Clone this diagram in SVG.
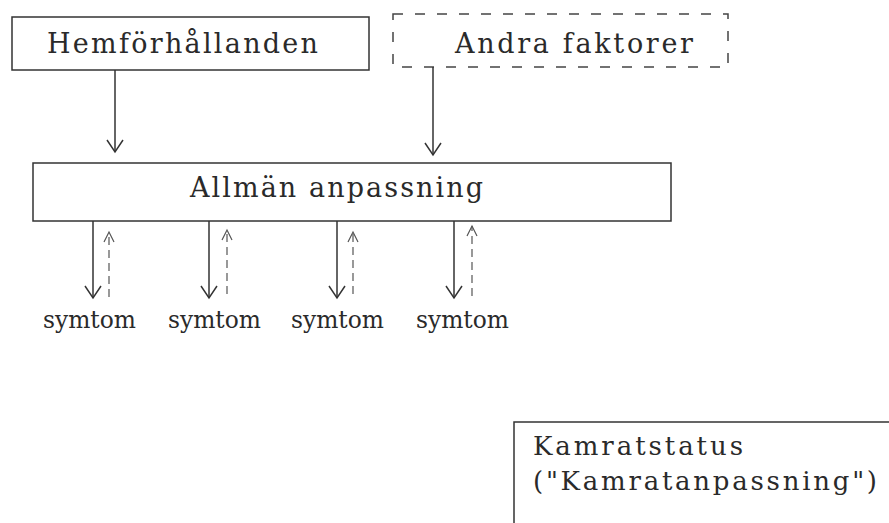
<svg xmlns="http://www.w3.org/2000/svg" width="889" height="523" viewBox="0 0 889 523">
<style>
.box{fill:none;stroke:#333;stroke-width:1.5}
.dbox{fill:none;stroke:#444;stroke-width:1.5;stroke-dasharray:10 12}
.t{font-family:"DejaVu Serif","Liberation Serif",serif;font-size:27px;fill:#2a2a2a}
.s{font-size:25px}
.k{font-size:26px}
.a{stroke:#333;stroke-width:1.5;fill:none}
.ad{stroke:#555;stroke-width:1.2;fill:none;stroke-dasharray:8 5}
</style>
<defs>
<marker id="ah" viewBox="-14 -10 16 20" refX="0" refY="0" markerWidth="16" markerHeight="20" markerUnits="userSpaceOnUse" orient="auto">
<path d="M-12,-8 L0,0 L-12,8" fill="none" stroke="#333" stroke-width="1.5"/>
</marker>
<marker id="ahd" viewBox="-12 -8 14 16" refX="0" refY="0" markerWidth="14" markerHeight="16" markerUnits="userSpaceOnUse" orient="auto">
<path d="M-10,-5 L0,0 L-10,5" fill="none" stroke="#555" stroke-width="1.2"/>
</marker>
</defs>
<g id="hem">
<rect class="box" x="12" y="17" width="357" height="53"/>
<text class="t" x="47" y="53" textLength="271" lengthAdjust="spacing">Hemförhållanden</text>
</g>
<g id="andra">
<rect class="dbox" x="393" y="14" width="335" height="53"/>
<text class="t" x="455" y="53" textLength="238" lengthAdjust="spacing">Andra faktorer</text>
</g>
<g id="allman">
<rect class="box" x="33" y="163" width="638" height="58"/>
<text class="t" x="190" y="197" textLength="293" lengthAdjust="spacing">Allmän anpassning</text>
</g>
<g id="symtom1"><text class="t s" x="43" y="328" textLength="93" lengthAdjust="spacingAndGlyphs">symtom</text></g>
<g id="symtom2"><text class="t s" x="168" y="328" textLength="93" lengthAdjust="spacingAndGlyphs">symtom</text></g>
<g id="symtom3"><text class="t s" x="291" y="328" textLength="93" lengthAdjust="spacingAndGlyphs">symtom</text></g>
<g id="symtom4"><text class="t s" x="416" y="328" textLength="93" lengthAdjust="spacingAndGlyphs">symtom</text></g>
<g id="kamrat">
<path class="box" d="M514,523 L514,422 L889,422"/>
<text class="t k" x="533" y="455" textLength="210" lengthAdjust="spacing">Kamratstatus</text>
<text class="t k" x="533" y="490" textLength="344" lengthAdjust="spacing">("Kamratanpassning")</text>
</g>
<g id="connectors">
<line class="a" x1="115" y1="70" x2="115" y2="152" marker-end="url(#ah)"/>
<line class="a" x1="433" y1="67" x2="433" y2="155" marker-end="url(#ah)"/>
<line class="a" x1="93" y1="221" x2="93" y2="298" marker-end="url(#ah)"/>
<line class="ad" x1="109" y1="297" x2="109" y2="232" marker-end="url(#ahd)"/>
<line class="a" x1="209" y1="221" x2="209" y2="298" marker-end="url(#ah)"/>
<line class="ad" x1="227" y1="294" x2="227" y2="230" marker-end="url(#ahd)"/>
<line class="a" x1="337" y1="221" x2="337" y2="298" marker-end="url(#ah)"/>
<line class="ad" x1="353" y1="294" x2="353" y2="232" marker-end="url(#ahd)"/>
<line class="a" x1="454" y1="221" x2="454" y2="298" marker-end="url(#ah)"/>
<line class="ad" x1="472" y1="296" x2="472" y2="226" marker-end="url(#ahd)"/>
</g>
</svg>
